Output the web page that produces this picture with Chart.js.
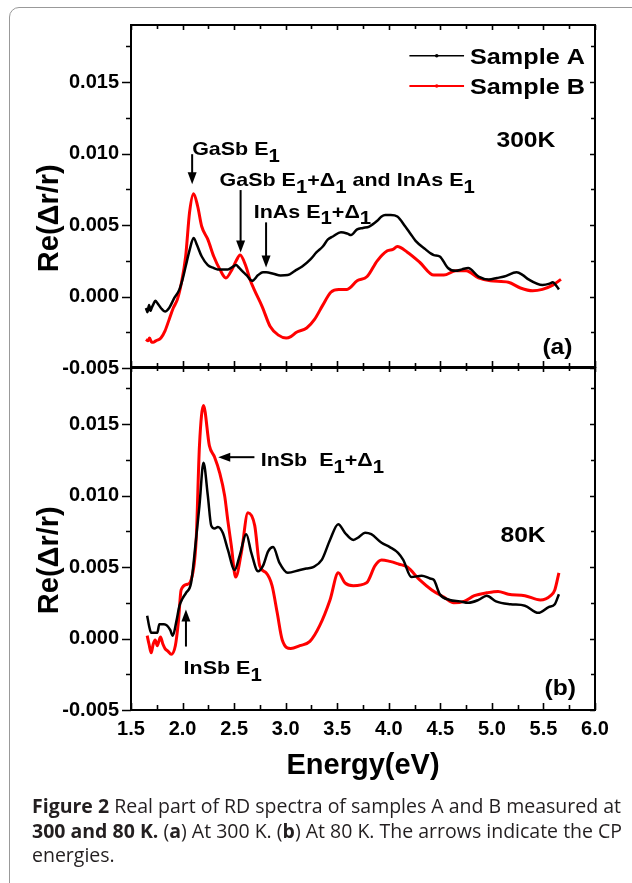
<!DOCTYPE html>
<html><head><meta charset="utf-8">
<script src="https://cdn.jsdelivr.net/npm/chart.js@4.4.0/dist/chart.umd.min.js"></script>
<style>
html,body{margin:0;padding:0;background:#fff;width:632px;height:883px;overflow:hidden;position:relative}
#frame{position:absolute;left:9px;top:7px;width:700px;height:1000px;border:1px solid #999;border-radius:10px;box-sizing:border-box}
canvas{position:absolute;left:0}
#c1{top:0}
#c2{top:360px}
#caption{position:absolute;left:32px;top:794px;font-family:"Open Sans",sans-serif;font-size:19.5px;line-height:24.5px;color:#231f20;white-space:nowrap}
</style></head><body>
<div id="frame"></div>
<canvas id="c1" width="632" height="380"></canvas>
<canvas id="c2" width="632" height="440"></canvas>
<div id="caption"><b>Figure 2</b> Real part of RD spectra of samples A and B measured at<br><b>300 and 80 K.</b> (<b>a</b>) At 300 K. (<b>b</b>) At 80 K. The arrows indicate the CP<br>energies.</div>
<script>
// ---------- data (energy in eV, Re(Δr/r)) ----------
const energyA300 = [1.645,1.66,1.675,1.69,1.70,1.72,1.735,1.76,1.79,1.83,1.87,1.92,1.97,2.00,2.03,2.07,2.107,2.14,2.186,2.245,2.30,2.34,2.40,2.44,2.49,2.518,2.55,2.577,2.62,2.675,2.733,2.78,2.81,2.88,2.95,3.02,3.09,3.16,3.24,3.30,3.36,3.41,3.458,3.536,3.60,3.634,3.693,3.75,3.81,3.888,3.93,3.966,4.02,4.083,4.16,4.21,4.26,4.357,4.41,4.437,4.495,4.574,4.65,4.71,4.77,4.87,4.97,5.05,5.12,5.24,5.30,5.355,5.49,5.56,5.59,5.62,5.65];
const reA300 = [-0.0008,-0.0011,-0.0006,-0.0010,-0.0008,-0.0005,-0.0003,-0.0005,-0.0008,-0.00105,-0.0008,-0.0001,0.0005,0.0012,0.0021,0.0033,0.0041,0.0036,0.0028,0.0022,0.0020,0.0019,0.0019,0.0019,0.0021,0.0022,0.0020,0.0018,0.0015,0.0011,0.0015,0.0017,0.0017,0.0016,0.00147,0.0015,0.0018,0.0021,0.0026,0.0031,0.0035,0.0040,0.0042,0.0045,0.0044,0.0043,0.0047,0.0048,0.0049,0.0053,0.0056,0.0057,0.0057,0.0056,0.0049,0.0044,0.0039,0.0033,0.0030,0.0029,0.0028,0.0020,0.0018,0.0019,0.0020,0.0014,0.0012,0.0013,0.0014,0.0017,0.0015,0.0012,0.0008,0.0009,0.0010,0.0008,0.0005];

const energyB300 = [1.645,1.665,1.68,1.70,1.715,1.74,1.79,1.83,1.87,1.91,1.95,1.99,2.03,2.068,2.107,2.147,2.186,2.245,2.303,2.362,2.42,2.48,2.52,2.558,2.615,2.654,2.694,2.772,2.85,2.93,3.005,3.05,3.105,3.204,3.28,3.36,3.438,3.516,3.595,3.693,3.79,3.888,3.986,4.04,4.083,4.18,4.30,4.437,4.534,4.65,4.75,4.87,4.985,5.16,5.277,5.395,5.49,5.59,5.67];
const reB300 = [-0.0030,-0.0031,-0.0029,-0.0032,-0.0032,-0.0031,-0.0029,-0.0024,-0.0016,-0.0008,-0.0002,0.0010,0.0028,0.0059,0.0072,0.0063,0.0049,0.0040,0.0028,0.0019,0.0013,0.0019,0.0025,0.0029,0.0021,0.0012,0.0005,-0.0007,-0.0021,-0.0027,-0.0029,-0.0028,-0.0025,-0.0022,-0.0016,-0.0006,0.0003,0.0005,0.0005,0.0011,0.0014,0.0025,0.0032,0.0033,0.0035,0.0031,0.0024,0.0015,0.0015,0.0018,0.0018,0.0013,0.0011,0.0010,0.0006,0.0004,0.0005,0.0008,0.0012];

const energyA80 = [1.657,1.675,1.696,1.72,1.755,1.775,1.794,1.82,1.85,1.88,1.905,1.94,1.97,2.00,2.034,2.083,2.13,2.164,2.203,2.245,2.278,2.31,2.343,2.39,2.44,2.505,2.554,2.618,2.667,2.732,2.781,2.83,2.878,2.94,3.02,3.137,3.20,3.267,3.35,3.43,3.51,3.575,3.656,3.71,3.77,3.83,3.93,4.01,4.09,4.14,4.22,4.32,4.40,4.437,4.495,4.59,4.69,4.77,4.87,4.95,5.04,5.18,5.32,5.45,5.55,5.61,5.65];
const reA80 = [0.0016,0.0009,0.0004,0.0004,0.0004,0.0010,0.0010,0.0010,0.0009,0.0006,0.0002,0.0012,0.0023,0.0028,0.0032,0.0039,0.0069,0.0093,0.0123,0.0100,0.0079,0.0077,0.0078,0.0074,0.0062,0.0048,0.0058,0.0073,0.0060,0.0047,0.0051,0.0061,0.0064,0.0053,0.0046,0.0048,0.0049,0.0050,0.0055,0.0069,0.0080,0.0074,0.0069,0.0071,0.0074,0.0073,0.0067,0.0064,0.0060,0.0055,0.0043,0.0044,0.0042,0.0041,0.0031,0.0027,0.0026,0.0025,0.0027,0.0030,0.0026,0.0024,0.0023,0.0018,0.0022,0.0024,0.0031];

const energyB80 = [1.657,1.675,1.696,1.715,1.735,1.755,1.77,1.786,1.81,1.83,1.86,1.89,1.93,1.96,1.986,2.048,2.083,2.132,2.164,2.203,2.26,2.31,2.36,2.408,2.44,2.473,2.515,2.57,2.634,2.70,2.748,2.81,2.868,2.918,2.967,3.05,3.137,3.235,3.33,3.43,3.51,3.575,3.656,3.785,3.867,3.93,4.01,4.10,4.18,4.30,4.417,4.534,4.63,4.73,4.83,4.95,5.06,5.16,5.32,5.47,5.57,5.61,5.65];
const reB80 = [0.0002,-0.0004,-0.0010,-0.0004,-0.0001,-0.0005,-0.0002,0.0001,-0.0004,-0.0007,-0.0009,-0.0011,-0.0005,0.0012,0.0034,0.0038,0.0041,0.0069,0.0135,0.0163,0.0135,0.0127,0.0116,0.0100,0.0082,0.0065,0.0043,0.0060,0.0088,0.0079,0.0051,0.0046,0.0037,0.0018,-0.0001,-0.0007,-0.0005,-0.0002,0.0009,0.0027,0.0046,0.0039,0.0037,0.0039,0.0051,0.0055,0.0054,0.0052,0.0050,0.0041,0.0034,0.0029,0.0025,0.0026,0.0030,0.0032,0.0033,0.0031,0.0030,0.0027,0.0030,0.0034,0.0046];

const seriesNames = ['Sample A','Sample B'];
const xTickLabels = ['1.5','2.0','2.5','3.0','3.5','4.0','4.5','5.0','5.5','6.0'];
const yTickLabels = ['-0.005','0.000','0.005','0.010','0.015'];

// annotation anchors (data coordinates)
const notesTop = [
  {t:'GaSb E_1', x:2.093, y:0.01038},
  {t:'GaSb E_1+Δ_1 and InAs E_1', x:2.359, y:0.0082},
  {t:'InAs E_1+Δ_1', x:2.69, y:0.0060},
  {t:'300K', x:5.044, y:0.0110, big:true},
  {t:'(a)', x:5.49, y:-0.0035, big:true}
];
const arrowsTop = [
  {x1:2.093, y1:0.00996, x2:2.093, y2:0.00785},
  {x1:2.563, y1:0.00745, x2:2.563, y2:0.00309},
  {x1:2.81, y1:0.00519, x2:2.81, y2:0.00203}
];
const notesBot = [
  {t:'InSb  E_1+Δ_1', x:2.758, y:0.01255},
  {t:'InSb E_1', x:2.01, y:-0.00203},
  {t:'80K', x:5.083, y:0.0073, big:true},
  {t:'(b)', x:5.51, y:-0.0034, big:true}
];
const arrowsBot = [
  {x1:2.697, y1:0.01269, x2:2.346, y2:0.01269},
  {x1:2.033, y1:-0.00056, x2:2.033, y2:0.00203}
];
const legendAnchor = {x1:4.20, x2:4.73, tx:4.788, y:[0.01685, 0.01473]};

// ---------- rendering ----------
const FONT = '"Liberation Sans", Arial, sans-serif';
Chart.defaults.font.family = FONT;
Chart.defaults.color = '#000';
const colors = ['#000000', '#ff0000'];

function drawRich(ctx, str, x, cy, size, stretch) {
  ctx.save();
  ctx.translate(x, cy + 0.358 * size);
  ctx.scale(stretch, 1);
  ctx.textBaseline = 'alphabetic';
  ctx.textAlign = 'left';
  ctx.fillStyle = '#000';
  let cx = 0;
  const parts = [];
  let buf = '';
  for (let i = 0; i < str.length; i++) {
    if (str[i] === '_' && i + 1 < str.length) {
      if (buf) parts.push([buf, 0]);
      buf = '';
      parts.push([str[i + 1], 1]);
      i++;
    } else buf += str[i];
  }
  if (buf) parts.push([buf, 0]);
  for (const [s, sub] of parts) {
    const sz = sub ? size * 0.95 : size;
    ctx.font = 'bold ' + sz + 'px ' + FONT;
    ctx.fillText(s, cx, sub ? size * 0.36 : 0);
    cx += ctx.measureText(s).width;
  }
  ctx.restore();
}

function arrow(ctx, x1, y1, x2, y2) {
  const ang = Math.atan2(y2 - y1, x2 - x1);
  const L = 12, W = 4.5;
  ctx.save();
  ctx.strokeStyle = '#000'; ctx.fillStyle = '#000'; ctx.lineWidth = 2;
  ctx.beginPath(); ctx.moveTo(x1, y1);
  ctx.lineTo(x2 - Math.cos(ang) * L * 0.8, y2 - Math.sin(ang) * L * 0.8); ctx.stroke();
  ctx.beginPath();
  ctx.moveTo(x2, y2);
  ctx.lineTo(x2 - Math.cos(ang) * L - Math.sin(ang) * W, y2 - Math.sin(ang) * L + Math.cos(ang) * W);
  ctx.lineTo(x2 - Math.cos(ang) * L + Math.sin(ang) * W, y2 - Math.sin(ang) * L - Math.cos(ang) * W);
  ctx.closePath(); ctx.fill();
  ctx.restore();
}

const decor = {
  id: 'decor',
  afterDraw(chart, args, o) {
    const {ctx, chartArea: {left, right, top, bottom}, scales: {x, y}} = chart;
    ctx.save();
    ctx.strokeStyle = '#000';
    ctx.lineWidth = 2;
    ctx.strokeRect(left, top, right - left, bottom - top);
    ctx.lineWidth = 1.6;
    for (let k = -2; k <= 7; k++) {
      const v = k * 0.0025;
      if (v > y.max) break;
      const py = Math.round(y.getPixelForValue(v)) + 0.5;
      const major = k % 2 === 0;
      ctx.beginPath();
      ctx.moveTo(left, py); ctx.lineTo(left - (major ? 9 : 5), py);
      ctx.moveTo(right, py); ctx.lineTo(right - (major ? 5 : 4), py);
      ctx.stroke();
    }
    for (let k = 0; k <= 18; k++) {
      const e = 1.5 + k * 0.25;
      const px = Math.round(x.getPixelForValue(e)) + 0.5;
      const major = k % 2 === 0;
      ctx.beginPath();
      ctx.moveTo(px, bottom); ctx.lineTo(px, bottom - (major ? 7 : 5));
      ctx.moveTo(px, top); ctx.lineTo(px, top + (major ? 5 : 4));
      ctx.stroke();
    }
    ctx.restore();
    for (const a of o.arrows) arrow(ctx, x.getPixelForValue(a.x1), y.getPixelForValue(a.y1), x.getPixelForValue(a.x2), y.getPixelForValue(a.y2));
    for (const n of o.notes) drawRich(ctx, n.t, x.getPixelForValue(n.x), y.getPixelForValue(n.y), n.big ? 22 : 19, n.big ? 1.12 : 1.13);
    if (o.legend) {
      const L = o.legend;
      seriesNames.forEach((name, i) => {
        const py = y.getPixelForValue(L.y[i]);
        const x1 = x.getPixelForValue(L.x1), x2 = x.getPixelForValue(L.x2);
        ctx.save();
        ctx.strokeStyle = colors[i]; ctx.lineWidth = i ? 2 : 1.6;
        ctx.beginPath(); ctx.moveTo(x1, py); ctx.lineTo(x2, py); ctx.stroke();
        ctx.fillStyle = colors[i];
        ctx.beginPath(); ctx.arc((x1 + x2) / 2, py, 1.8, 0, Math.PI * 2); ctx.fill();
        ctx.restore();
        drawRich(ctx, name, x.getPixelForValue(L.tx), py, 22.5, 1.12);
      });
    }
  }
};

function ds(ex, ey, i) {
  return {
    label: seriesNames[i],
    data: ex.map((e, k) => ({x: e, y: ey[k]})),
    borderColor: colors[i],
    borderWidth: i ? 3 : 2.5,
    pointRadius: 0,
    cubicInterpolationMode: 'monotone',
    fill: false
  };
}

function zeroPad(s) { s.paddingTop = 0; s.paddingBottom = 0; s.paddingLeft = 0; s.paddingRight = 0; }

function makeChart(id, datasets, isBottom, notes, arrows, legend) {
  return new Chart(document.getElementById(id), {
    type: 'line',
    data: {datasets},
    plugins: [decor],
    options: {
      responsive: false,
      animation: false,
      devicePixelRatio: 1,
      layout: {padding: {left: 0, right: 37, top: isBottom ? 7 : 25, bottom: 0}},
      plugins: {
        legend: {display: false},
        tooltip: {enabled: false},
        decor: {notes, arrows, legend}
      },
      scales: {
        x: {
          type: 'linear', min: 1.5, max: 6.0,
          grid: {display: false, drawTicks: false},
          border: {display: false},
          ticks: {
            display: isBottom, stepSize: 0.5, padding: 7, autoSkip: false, maxRotation: 0,
            font: {size: 20, weight: 'bold'}, color: '#000',
            callback: (v) => xTickLabels[Math.round((v - 1.5) / 0.5)]
          },
          title: {display: isBottom, text: 'Energy(eV)', color: '#000',
            font: {size: 29, weight: 'bold'}, padding: {top: 0, bottom: 17}},
          afterFit: (s) => { s.height = isBottom ? 90 : 12; zeroPad(s); }
        },
        y: {
          min: -0.005, max: 0.019,
          grid: {display: false, drawTicks: false},
          border: {display: false},
          ticks: {
            stepSize: 0.005, includeBounds: false, padding: 12,
            font: {size: 20, weight: 'bold'}, color: '#000',
            callback: (v) => yTickLabels[Math.round((v + 0.005) / 0.005)]
          },
          title: {display: true, text: 'Re(Δr/r)\u2002\u2002\u2002', color: '#000',
            font: {size: 29, weight: 'bold'}, padding: {top: 33, bottom: 0}},
          afterFit: (s) => { s.width = 131; zeroPad(s); }
        }
      }
    }
  });
}

makeChart('c1', [ds(energyA300, reA300, 0), ds(energyB300, reB300, 1)], false, notesTop, arrowsTop, legendAnchor);
makeChart('c2', [ds(energyA80, reA80, 0), ds(energyB80, reB80, 1)], true, notesBot, arrowsBot, null);
</script>
</body></html>
